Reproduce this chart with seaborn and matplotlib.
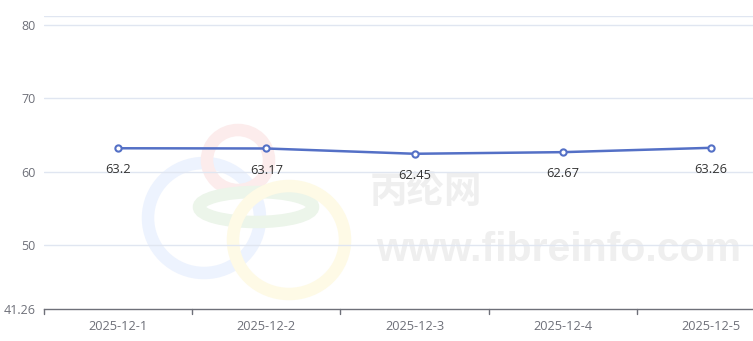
import matplotlib
matplotlib.use("Agg")
import matplotlib.pyplot as plt
import seaborn as sns
import pandas as pd
from matplotlib.patches import Ellipse

dates = ["2025-12-1", "2025-12-2", "2025-12-3", "2025-12-4", "2025-12-5"]
values = [63.2, 63.17, 62.45, 62.67, 63.26]
ytick_vals = [41.26, 50, 60, 70, 80]
ytick_labels = ["41.26", "50", "60", "70", "80"]
y_min, y_max = 41.26, 81.26

sns.set_theme(style="white")
plt.rcParams["font.family"] = ["Open Sans", "Noto Sans CJK SC", "DejaVu Sans"]

W, H = 753, 341
fig = plt.figure(figsize=(W / 100, H / 100), dpi=100)

# watermark layer (pixel coordinates)
bg = fig.add_axes([0, 0, 1, 1], zorder=0)
bg.set_xlim(0, W)
bg.set_ylim(H, 0)
bg.axis("off")
for (cx, cy, w, h, col) in [
    (204, 218, 112, 110, "#edf3fe"),
    (238, 160, 62, 60, "#fcecec"),
    (256, 207, 114, 30, "#ecf5ea"),
    (289, 240, 112, 108, "#fefae6"),
]:
    bg.add_patch(Ellipse((cx, cy), w, h, fill=False, lw=9, ec=col))
bg.text(426, 191, "丙纶网", fontsize=27, fontweight="bold", color="#efefef",
        ha="center", va="center", family=["Noto Sans CJK SC"])
bg.text(559, 250, "www.fibreinfo.com", fontsize=29.5, fontweight="bold",
        color="#efefef", ha="center", va="center",
        family=["Liberation Sans", "DejaVu Sans"])

left = 44 / W
bottom = (H - 309.3) / H
height = (309.3 - 15.7) / H
width = (785 - 44) / W
ax = fig.add_axes([left, bottom, width, height], zorder=1)
ax.patch.set_alpha(0)

df = pd.DataFrame({"date": dates, "value": values})
df["x"] = range(len(dates))

sns.lineplot(data=df, x="x", y="value", ax=ax, color="#5470c6", lw=1.8,
             marker="o", markersize=4.5, markerfacecolor="white",
             markeredgecolor="#5470c6", markeredgewidth=1.5, zorder=3)

for xi, v in zip(df["x"], df["value"]):
    ax.annotate(f"{v:g}", (xi, v), xytext=(0, -15.5), textcoords="offset points",
                ha="center", va="center", fontsize=9.3, color="#333333")

ax.set_xlim(-0.5, len(dates) - 0.5)
ax.set_ylim(y_min, y_max)

for gy in [50, 60, 70, 80, y_max]:
    ax.axhline(gy, color="#e0e6f1", lw=1, zorder=0)

ax.set_yticks(ytick_vals)
ax.set_yticklabels(ytick_labels)
ax.set_xticks(range(len(dates)))
ax.set_xticklabels(dates)
ax.tick_params(axis="y", length=0, pad=6, labelsize=9, labelcolor="#6e7079")
ax.tick_params(axis="x", length=0, pad=8, labelsize=9.2, labelcolor="#6e7079")
# boundary ticks
for b in [i - 0.5 for i in range(len(dates) + 1)]:
    ax.plot([b, b], [0, -0.017], transform=ax.get_xaxis_transform(),
            color="#6e7079", lw=1, clip_on=False)

for s in ["top", "right", "left"]:
    ax.spines[s].set_visible(False)
ax.spines["bottom"].set_color("#6e7079")
ax.spines["bottom"].set_linewidth(1)
ax.set_xlabel("")
ax.set_ylabel("")

fig.savefig("out.png", dpi=100)
